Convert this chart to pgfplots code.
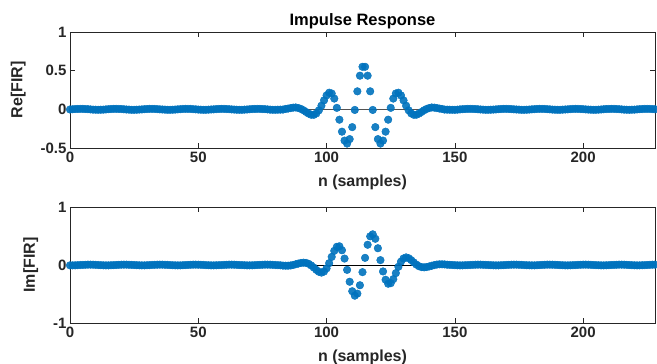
\documentclass[border=0pt]{standalone}
\usepackage{pgfplots}
\pgfplotsset{compat=1.18}
\usepackage{pgfplotstable}
\usepackage{fontspec}
\setmainfont{Liberation Sans}
\definecolor{mblue}{rgb}{0,0.447,0.741}
\definecolor{axgray}{rgb}{0.15,0.15,0.15}
\pgfplotstableread{
n re im
0 -0.002 -0.006
1 0.001 -0.006
2 0.004 -0.005
3 0.005 -0.003
4 0.006 0.000
5 0.006 0.002
6 0.004 0.004
7 0.002 0.006
8 -0.001 0.006
9 -0.004 0.005
10 -0.005 0.003
11 -0.006 0.000
12 -0.005 -0.003
13 -0.004 -0.005
14 -0.001 -0.006
15 0.002 -0.006
16 0.004 -0.004
17 0.006 -0.002
18 0.006 0.000
19 0.005 0.003
20 0.004 0.005
21 0.001 0.006
22 -0.002 0.006
23 -0.004 0.004
24 -0.006 0.002
25 -0.006 0.000
26 -0.005 -0.003
27 -0.003 -0.005
28 -0.001 -0.006
29 0.002 -0.006
30 0.004 -0.004
31 0.006 -0.002
32 0.006 0.001
33 0.005 0.003
34 0.003 0.005
35 0.000 0.006
36 -0.002 0.006
37 -0.004 0.004
38 -0.006 0.002
39 -0.006 -0.001
40 -0.005 -0.004
41 -0.003 -0.005
42 0.000 -0.006
43 0.002 -0.006
44 0.005 -0.004
45 0.006 -0.001
46 0.006 0.001
47 0.005 0.004
48 0.002 0.006
49 0.000 0.006
50 -0.003 0.005
51 -0.005 0.004
52 -0.006 0.001
53 -0.006 -0.002
54 -0.004 -0.004
55 -0.002 -0.006
56 0.000 -0.006
57 0.003 -0.005
58 0.005 -0.003
59 0.006 -0.001
60 0.006 0.002
61 0.004 0.004
62 0.002 0.006
63 -0.001 0.006
64 -0.003 0.005
65 -0.005 0.003
66 -0.006 0.000
67 -0.006 -0.002
68 -0.004 -0.004
69 -0.002 -0.006
70 0.001 -0.006
71 0.004 -0.005
72 0.005 -0.003
73 0.006 0.000
74 0.006 0.002
75 0.004 0.004
76 0.002 0.006
77 -0.001 0.006
78 -0.004 0.005
79 -0.006 0.003
80 -0.006 0.000
81 -0.005 -0.003
82 -0.004 -0.005
83 -0.003 -0.010
84 0.005 -0.012
85 0.010 -0.012
86 0.016 -0.008
87 0.022 0.001
88 0.024 0.013
89 0.017 0.025
90 0.005 0.035
91 -0.012 0.040
92 -0.034 0.036
93 -0.055 0.021
94 -0.070 -0.007
95 -0.071 -0.044
96 -0.053 -0.084
97 -0.013 -0.117
98 0.047 -0.131
99 0.116 -0.113
100 0.180 -0.058
101 0.215 0.031
102 0.205 0.140
103 0.139 0.244
104 0.019 0.314
105 -0.134 0.323
106 -0.289 0.254
107 -0.404 0.111
108 -0.443 -0.084
109 -0.385 -0.289
110 -0.230 -0.452
111 -0.008 -0.529
112 0.233 -0.494
113 0.435 -0.349
114 0.550 -0.123
115 0.550 0.123
116 0.435 0.349
117 0.233 0.494
118 -0.008 0.529
119 -0.230 0.452
120 -0.385 0.289
121 -0.443 0.084
122 -0.404 -0.111
123 -0.289 -0.254
124 -0.134 -0.323
125 0.019 -0.314
126 0.139 -0.244
127 0.205 -0.140
128 0.215 -0.031
129 0.180 0.058
130 0.116 0.113
131 0.047 0.131
132 -0.013 0.117
133 -0.053 0.084
134 -0.071 0.044
135 -0.070 0.007
136 -0.055 -0.021
137 -0.034 -0.036
138 -0.012 -0.040
139 0.005 -0.035
140 0.017 -0.025
141 0.024 -0.013
142 0.022 -0.001
143 0.016 0.008
144 0.010 0.012
145 0.005 0.012
146 -0.003 0.010
147 -0.004 0.005
148 -0.005 0.003
149 -0.006 0.000
150 -0.006 -0.003
151 -0.004 -0.005
152 -0.001 -0.006
153 0.002 -0.006
154 0.004 -0.004
155 0.006 -0.002
156 0.006 0.000
157 0.005 0.003
158 0.004 0.005
159 0.001 0.006
160 -0.002 0.006
161 -0.004 0.004
162 -0.006 0.002
163 -0.006 0.000
164 -0.005 -0.003
165 -0.003 -0.005
166 -0.001 -0.006
167 0.002 -0.006
168 0.004 -0.004
169 0.006 -0.002
170 0.006 0.001
171 0.005 0.003
172 0.003 0.005
173 0.000 0.006
174 -0.002 0.006
175 -0.004 0.004
176 -0.006 0.002
177 -0.006 -0.001
178 -0.005 -0.004
179 -0.003 -0.005
180 0.000 -0.006
181 0.002 -0.006
182 0.005 -0.004
183 0.006 -0.001
184 0.006 0.001
185 0.005 0.004
186 0.002 0.006
187 0.000 0.006
188 -0.003 0.005
189 -0.005 0.004
190 -0.006 0.001
191 -0.006 -0.002
192 -0.004 -0.004
193 -0.002 -0.006
194 0.000 -0.006
195 0.003 -0.005
196 0.005 -0.003
197 0.006 -0.001
198 0.006 0.002
199 0.004 0.004
200 0.002 0.006
201 -0.001 0.006
202 -0.003 0.005
203 -0.005 0.003
204 -0.006 0.000
205 -0.006 -0.002
206 -0.004 -0.004
207 -0.002 -0.006
208 0.001 -0.006
209 0.004 -0.005
210 0.005 -0.003
211 0.006 0.000
212 0.006 0.002
213 0.004 0.004
214 0.002 0.006
215 -0.001 0.006
216 -0.004 0.005
217 -0.005 0.003
218 -0.006 0.000
219 -0.005 -0.003
220 -0.004 -0.005
221 -0.001 -0.006
222 0.002 -0.006
223 0.004 -0.004
224 0.006 -0.002
225 0.006 0.000
226 0.005 0.003
227 0.004 0.005
228 0.001 0.006
}\fir
\pgfplotsset{
  stemax/.style={
    scale only axis,
    width=585pt,
    height=116pt,
    xmin=0, xmax=228,
    xtick={0,50,100,150,200},
    axis line style={axgray, line width=0.5pt},
    tick style={axgray, line width=0.5pt},
    major tick length=5pt,
    tick align=inside,
    /pgf/number format/assume math mode=true,
    tick label style={font=\fontsize{15}{15}\selectfont\bfseries, text=axgray},
    label style={font=\fontsize{16}{16}\selectfont\bfseries, text=axgray},
    xlabel={n (samples)},
    xlabel style={yshift=-6pt},
    ylabel style={yshift=8pt},
    clip=false,
  },
  stemplot/.style={mblue, only marks, mark=*, mark size=3.8pt,
    mark options={fill=mblue, draw=mblue, fill opacity=0.9}},
}
\begin{document}
\begin{tikzpicture}
\path[use as bounding box] (-70pt,32pt) rectangle (587pt,-332pt);
\begin{axis}[stemax, at={(0pt,0pt)}, anchor=north west,
  ymin=-0.5, ymax=1, ytick={-0.5,0,0.5,1},
  yticklabels={-0.5,0,0.5,1},
  ylabel={Re[FIR]},
  title={Impulse Response},
  title style={font=\fontsize{16.5}{16.5}\selectfont\bfseries, yshift=-6pt}]
\addplot[stemplot] table[x=n, y=re] {\fir};
\addplot[axgray!80, line width=0.6pt] coordinates {(0,0) (228,0)};
\end{axis}
\begin{axis}[stemax, at={(0pt,-175pt)}, anchor=north west,
  ymin=-1, ymax=1, ytick={-1,0,1},
  yticklabels={-1,0,1},
  ylabel={Im[FIR]}]
\addplot[stemplot] table[x=n, y=im] {\fir};
\addplot[black, line width=0.6pt] coordinates {(0,0) (228,0)};
\end{axis}
\end{tikzpicture}
\end{document}
